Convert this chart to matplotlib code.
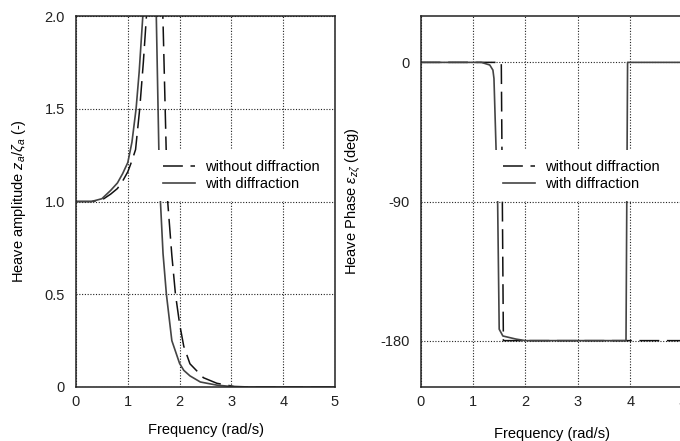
import numpy as np
import matplotlib
matplotlib.use('Agg')
import matplotlib.pyplot as plt

plt.rcParams['font.family'] = ['Liberation Sans', 'DejaVu Sans']
plt.rcParams['font.size'] = 10
plt.rcParams['axes.unicode_minus'] = False
plt.rcParams['mathtext.fontset'] = 'custom'
plt.rcParams['mathtext.rm'] = 'Liberation Sans'
plt.rcParams['mathtext.it'] = 'Liberation Sans:italic'

# heave amplitude
freq_amp_nodiff = [0, 0.3, 0.5, 0.67, 0.8, 0.9, 1.0, 1.08, 1.15, 1.23, 1.30, 1.36, 1.45,
                   1.55, 1.62, 1.68, 1.74, 1.77, 1.85, 1.92, 2.0, 2.08, 2.2, 2.46, 2.72,
                   3.05, 3.4, 5.0]
amp_nodiff = [1.0, 1.0, 1.008, 1.04, 1.07, 1.11, 1.16, 1.22, 1.28, 1.5, 1.75, 2.0, 2.6,
              3.0, 2.4, 1.97, 1.29, 1.0, 0.71, 0.5, 0.34, 0.22, 0.125, 0.05, 0.02,
              0.003, 0.0, 0.0]

freq_amp_diff = [0, 0.3, 0.5, 0.67, 0.8, 0.9, 1.0, 1.08, 1.16, 1.22, 1.29, 1.36, 1.45,
                 1.55, 1.60, 1.63, 1.68, 1.745, 1.85, 2.0, 2.08, 2.2, 2.4, 2.72, 3.1, 5.0]
amp_diff = [1.0, 1.0, 1.015, 1.06, 1.1, 1.15, 1.21, 1.32, 1.5, 1.7, 2.0, 2.5, 2.8,
            2.0, 1.27, 1.0, 0.72, 0.5, 0.25, 0.127, 0.09, 0.06, 0.027, 0.01, 0.0, 0.0]

# heave phase (deg)
freq_ph_nodiff = [0, 1.54, 1.58, 5.0]
ph_nodiff = [0, 0, -180, -180]

freq_ph_diff = [0, 1.16, 1.32, 1.38, 1.40, 1.44, 1.47, 1.50, 1.57, 1.82, 2.0, 3.92, 3.95, 5.0]
ph_diff = [0, 0, -1.7, -5, -10.4, -55.8, -90, -172.6, -177, -179, -180, -180, 0, 0]

labels = ['without diffraction', 'with diffraction']
x_ticks = [0, 1, 2, 3, 4, 5]
amp_ticks = [0, 0.5, 1.0, 1.5, 2.0]
amp_ticklabels = ['0', '0.5', '1.0', '1.5', '2.0']
ph_ticks = [0, -90, -180]

dash = (0, (13, 5))
grid_kw = dict(color='#222222', linestyle=(0, (1, 1.5)), linewidth=0.8)


def style_axes(ax):
    for s in ax.spines.values():
        s.set_linewidth(1.1)
        s.set_color('#222222')
    ax.tick_params(length=0, labelsize=10.5, colors='#222222')
    ax.tick_params(axis='y', pad=8)
    ax.tick_params(axis='x', pad=6)
    ax.set_xlim(0, 5)
    ax.set_xticks(x_ticks)
    ax.grid(True, **grid_kw)
    ax.set_axisbelow(True)


def add_legend(ax, x0):
    leg = ax.legend(labels, loc='upper left', bbox_to_anchor=(x0, 0.639),
                    frameon=True, fancybox=False, edgecolor='none', facecolor='white',
                    framealpha=1, fontsize=10.5, handlelength=2.2, handletextpad=0.7,
                    borderpad=0.7, labelspacing=0.2, borderaxespad=0)
    leg.set_zorder(5)


fig = plt.figure(figsize=(6.8, 4.41), dpi=100)

ax1 = fig.add_axes([76 / 680, 54 / 441, 259 / 680, 371 / 441])
ax1.plot(freq_amp_nodiff, amp_nodiff, color='#111111', lw=1.1, linestyle=dash)
ax1.plot(freq_amp_diff, amp_diff, color='#444444', lw=1.2)
ax1.set_ylim(0, 2.0)
ax1.set_yticks(amp_ticks)
ax1.set_yticklabels(amp_ticklabels)
style_axes(ax1)
ax1.set_xlabel('Frequency (rad/s)', labelpad=10, fontsize=10.5)
ax1.set_ylabel(r'Heave amplitude $z_a/\zeta_a$ (-)', labelpad=12, fontsize=10.5)
add_legend(ax1, 0.296)

ax2 = fig.add_axes([420.6 / 680, 54 / 441, 262 / 680, 371 / 441])
ax2.plot(freq_ph_nodiff, ph_nodiff, color='#111111', lw=1.1, linestyle=dash)
ax2.plot(freq_ph_diff, ph_diff, color='#444444', lw=1.2)
ax2.set_ylim(-210, 30)
ax2.set_yticks(ph_ticks)
style_axes(ax2)
ax2.set_xlabel('Frequency (rad/s)', labelpad=13, fontsize=10.5)
ax2.set_ylabel(r'Heave Phase $\varepsilon_{z\zeta}$ (deg)', labelpad=12, fontsize=10.5)
add_legend(ax2, 0.275)

fig.savefig('out.png', dpi=100)
